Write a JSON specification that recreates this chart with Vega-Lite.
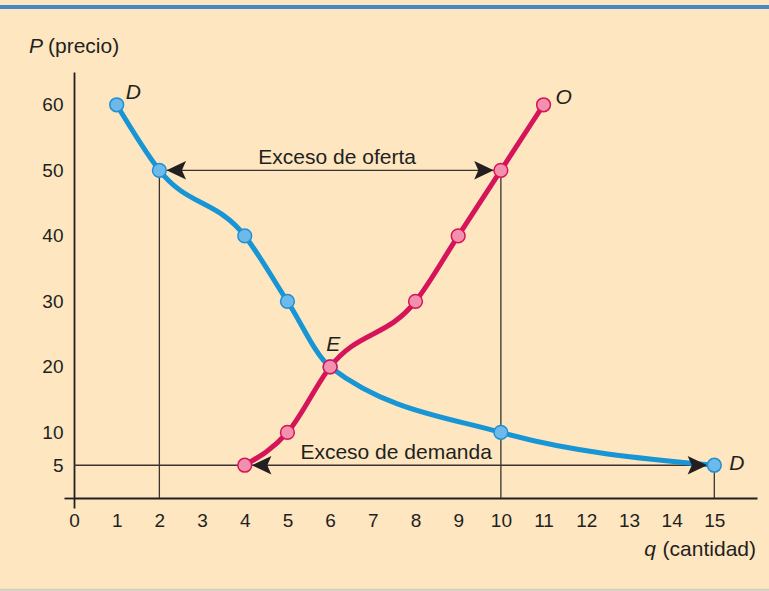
{
  "$schema": "https://vega.github.io/schema/vega-lite/v6.json",
  "width": 683,
  "height": 426,
  "autosize": "none",
  "padding": {"left": 74, "top": 72, "right": 12, "bottom": 93},
  "background": "#FDE6C0",
  "config": {"view": {"stroke": null}, "font": "Liberation Sans"},
  "datasets": {
    "demand": [
      {"q": 1, "p": 60}, {"q": 2, "p": 50}, {"q": 4, "p": 40}, {"q": 5, "p": 30},
      {"q": 6, "p": 20}, {"q": 10, "p": 10}, {"q": 15, "p": 5}
    ],
    "supply": [
      {"q": 4, "p": 5}, {"q": 5, "p": 10}, {"q": 6, "p": 20}, {"q": 8, "p": 30},
      {"q": 9, "p": 40}, {"q": 10, "p": 50}, {"q": 11, "p": 60}
    ],
    "segments": [
      {"q": 2, "q2": 2, "p": 0, "p2": 50},
      {"q": 10, "q2": 10, "p": 0, "p2": 50},
      {"q": 15, "q2": 15, "p": 0, "p2": 5},
      {"q": 0, "q2": 15, "p": 5, "p2": 5},
      {"q": 2, "q2": 10, "p": 50, "p2": 50}
    ],
    "arrows": [
      {"q": 2, "p": 50, "dir": "left"},
      {"q": 10, "p": 50, "dir": "right"},
      {"q": 4, "p": 5, "dir": "left"},
      {"q": 15, "p": 5, "dir": "right"}
    ]
  },
  "layer": [
    {
      "data": {"values": [{}]},
      "mark": {"type": "rule", "color": "#4A87C9", "strokeWidth": 4},
      "encoding": {
        "x": {"datum": -1.75, "type": "quantitative", "scale": {"domain": [0, 16], "nice": false}},
        "x2": {"datum": 16.3},
        "y": {"datum": 74.9, "type": "quantitative", "scale": {"domain": [0, 65], "nice": false}}
      }
    },
    {
      "data": {"values": [{}]},
      "mark": {"type": "rule", "color": "#CFCFC4", "strokeWidth": 2},
      "encoding": {
        "x": {"datum": -1.75, "type": "quantitative", "scale": {"domain": [0, 16], "nice": false}},
        "x2": {"datum": 16.3},
        "y": {"datum": -14.0, "type": "quantitative", "scale": {"domain": [0, 65], "nice": false}}
      }
    },
    {
      "data": {"name": "segments"},
      "mark": {"type": "rule", "color": "#3A3330", "strokeWidth": 1.3},
      "encoding": {
        "x": {
          "field": "q", "type": "quantitative",
          "scale": {"domain": [0, 16], "nice": false},
          "axis": {
            "values": [0, 1, 2, 3, 4, 5, 6, 7, 8, 9, 10, 11, 12, 13, 14, 15],
            "title": null, "grid": false,
            "domainColor": "#231F20", "domainWidth": 1.8,
            "tickColor": "#231F20", "tickWidth": 1.8, "tickSize": 10,
            "tickOpacity": {"condition": {"test": "datum.value === 0", "value": 1}, "value": 0},
            "labelFontSize": 19, "labelColor": "#231F20", "labelPadding": 3,
            "labelFont": "Liberation Sans", "labelFlush": false, "labelOverlap": false
          }
        },
        "x2": {"field": "q2"},
        "y": {
          "field": "p", "type": "quantitative",
          "scale": {"domain": [0, 65], "nice": false},
          "axis": {
            "values": [0, 5, 10, 20, 30, 40, 50, 60],
            "labelExpr": "datum.value === 0 ? '' : datum.label",
            "title": null, "grid": false,
            "domainColor": "#231F20", "domainWidth": 1.8,
            "tickColor": "#231F20", "tickWidth": 1.8, "tickSize": 10,
            "tickOpacity": {"condition": {"test": "datum.value === 0", "value": 1}, "value": 0},
            "labelFontSize": 19, "labelColor": "#231F20", "labelPadding": 1,
            "labelFont": "Liberation Sans", "labelFlush": false, "labelOverlap": false
          }
        },
        "y2": {"field": "p2"}
      }
    },
    {
      "data": {"name": "demand"},
      "mark": {"type": "line", "interpolate": "monotone", "color": "#1795D4", "strokeWidth": 5},
      "encoding": {
        "x": {"field": "q", "type": "quantitative", "scale": {"domain": [0, 16], "nice": false}},
        "y": {"field": "p", "type": "quantitative", "scale": {"domain": [0, 65], "nice": false}}
      }
    },
    {
      "data": {"name": "supply"},
      "mark": {"type": "line", "interpolate": "monotone", "color": "#D6145A", "strokeWidth": 5},
      "encoding": {
        "x": {"field": "q", "type": "quantitative", "scale": {"domain": [0, 16], "nice": false}},
        "y": {"field": "p", "type": "quantitative", "scale": {"domain": [0, 65], "nice": false}}
      }
    },
    {
      "data": {"name": "arrows"},
      "mark": {"type": "point", "filled": true, "size": 420, "color": "#231F20", "opacity": 1},
      "encoding": {
        "x": {"field": "q", "type": "quantitative", "scale": {"domain": [0, 16], "nice": false}},
        "y": {"field": "p", "type": "quantitative", "scale": {"domain": [0, 65], "nice": false}},
        "shape": {
          "field": "dir", "type": "nominal", "legend": null,
          "scale": {
            "domain": ["left", "right"],
            "range": ["M0.7,0L2.6,-0.9L2.2,0L2.6,0.9Z", "M-0.7,0L-2.6,-0.9L-2.2,0L-2.6,0.9Z"]
          }
        }
      }
    },
    {
      "data": {"name": "demand"},
      "mark": {"type": "point", "shape": "circle", "filled": true, "size": 190, "color": "#6DB9E9", "stroke": "#1F90D3", "strokeWidth": 1.5, "opacity": 1},
      "encoding": {
        "x": {"field": "q", "type": "quantitative", "scale": {"domain": [0, 16], "nice": false}},
        "y": {"field": "p", "type": "quantitative", "scale": {"domain": [0, 65], "nice": false}}
      }
    },
    {
      "data": {"name": "supply"},
      "mark": {"type": "point", "shape": "circle", "filled": true, "size": 190, "color": "#F290AD", "stroke": "#D6145A", "strokeWidth": 1.5, "opacity": 1},
      "encoding": {
        "x": {"field": "q", "type": "quantitative", "scale": {"domain": [0, 16], "nice": false}},
        "y": {"field": "p", "type": "quantitative", "scale": {"domain": [0, 65], "nice": false}}
      }
    },
    {
      "data": {"values": [{"q": 1, "p": 60, "label": "D"}]},
      "mark": {"type": "text", "fontSize": 21, "fontStyle": "italic", "color": "#231F20", "align": "left", "baseline": "middle", "dx": 9, "dy": -12},
      "encoding": {
        "x": {"field": "q", "type": "quantitative", "scale": {"domain": [0, 16], "nice": false}},
        "y": {"field": "p", "type": "quantitative", "scale": {"domain": [0, 65], "nice": false}},
        "text": {"field": "label"}
      }
    },
    {
      "data": {"values": [{"q": 15, "p": 5, "label": "D"}]},
      "mark": {"type": "text", "fontSize": 21, "fontStyle": "italic", "color": "#231F20", "align": "left", "baseline": "middle", "dx": 15, "dy": -1},
      "encoding": {
        "x": {"field": "q", "type": "quantitative", "scale": {"domain": [0, 16], "nice": false}},
        "y": {"field": "p", "type": "quantitative", "scale": {"domain": [0, 65], "nice": false}},
        "text": {"field": "label"}
      }
    },
    {
      "data": {"values": [{"q": 11, "p": 60, "label": "O"}]},
      "mark": {"type": "text", "fontSize": 21, "fontStyle": "italic", "color": "#231F20", "align": "left", "baseline": "middle", "dx": 12, "dy": -7},
      "encoding": {
        "x": {"field": "q", "type": "quantitative", "scale": {"domain": [0, 16], "nice": false}},
        "y": {"field": "p", "type": "quantitative", "scale": {"domain": [0, 65], "nice": false}},
        "text": {"field": "label"}
      }
    },
    {
      "data": {"values": [{"q": 6, "p": 20, "label": "E"}]},
      "mark": {"type": "text", "fontSize": 21, "fontStyle": "italic", "color": "#231F20", "align": "center", "baseline": "middle", "dx": 3, "dy": -22},
      "encoding": {
        "x": {"field": "q", "type": "quantitative", "scale": {"domain": [0, 16], "nice": false}},
        "y": {"field": "p", "type": "quantitative", "scale": {"domain": [0, 65], "nice": false}},
        "text": {"field": "label"}
      }
    },
    {
      "data": {"values": [{"q": 6, "p": 50, "label": "Exceso de oferta"}]},
      "mark": {"type": "text", "fontSize": 21, "color": "#231F20", "align": "center", "baseline": "alphabetic", "dx": 7, "dy": -6},
      "encoding": {
        "x": {"field": "q", "type": "quantitative", "scale": {"domain": [0, 16], "nice": false}},
        "y": {"field": "p", "type": "quantitative", "scale": {"domain": [0, 65], "nice": false}},
        "text": {"field": "label"}
      }
    },
    {
      "data": {"values": [{"q": 7.5, "p": 5, "label": "Exceso de demanda"}]},
      "mark": {"type": "text", "fontSize": 21, "color": "#231F20", "align": "center", "baseline": "alphabetic", "dx": 2, "dy": -6},
      "encoding": {
        "x": {"field": "q", "type": "quantitative", "scale": {"domain": [0, 16], "nice": false}},
        "y": {"field": "p", "type": "quantitative", "scale": {"domain": [0, 65], "nice": false}},
        "text": {"field": "label"}
      }
    },
    {
      "data": {"values": [{"q": 0, "p": 65, "label": "P"}]},
      "mark": {"type": "text", "fontSize": 21, "fontStyle": "italic", "color": "#231F20", "align": "left", "baseline": "alphabetic", "dx": -45, "dy": -19},
      "encoding": {
        "x": {"field": "q", "type": "quantitative", "scale": {"domain": [0, 16], "nice": false}},
        "y": {"field": "p", "type": "quantitative", "scale": {"domain": [0, 65], "nice": false}},
        "text": {"field": "label"}
      }
    },
    {
      "data": {"values": [{"q": 0, "p": 65, "label": "(precio)"}]},
      "mark": {"type": "text", "fontSize": 21, "color": "#231F20", "align": "left", "baseline": "alphabetic", "dx": -26, "dy": -19},
      "encoding": {
        "x": {"field": "q", "type": "quantitative", "scale": {"domain": [0, 16], "nice": false}},
        "y": {"field": "p", "type": "quantitative", "scale": {"domain": [0, 65], "nice": false}},
        "text": {"field": "label"}
      }
    },
    {
      "data": {"values": [{"q": 16, "p": 0, "label": "(cantidad)"}]},
      "mark": {"type": "text", "fontSize": 21, "color": "#231F20", "align": "right", "baseline": "alphabetic", "dx": -1, "dy": 58},
      "encoding": {
        "x": {"field": "q", "type": "quantitative", "scale": {"domain": [0, 16], "nice": false}},
        "y": {"field": "p", "type": "quantitative", "scale": {"domain": [0, 65], "nice": false}},
        "text": {"field": "label"}
      }
    },
    {
      "data": {"values": [{"q": 16, "p": 0, "label": "q"}]},
      "mark": {"type": "text", "fontSize": 21, "fontStyle": "italic", "color": "#231F20", "align": "right", "baseline": "alphabetic", "dx": -101, "dy": 58},
      "encoding": {
        "x": {"field": "q", "type": "quantitative", "scale": {"domain": [0, 16], "nice": false}},
        "y": {"field": "p", "type": "quantitative", "scale": {"domain": [0, 65], "nice": false}},
        "text": {"field": "label"}
      }
    }
  ]
}
